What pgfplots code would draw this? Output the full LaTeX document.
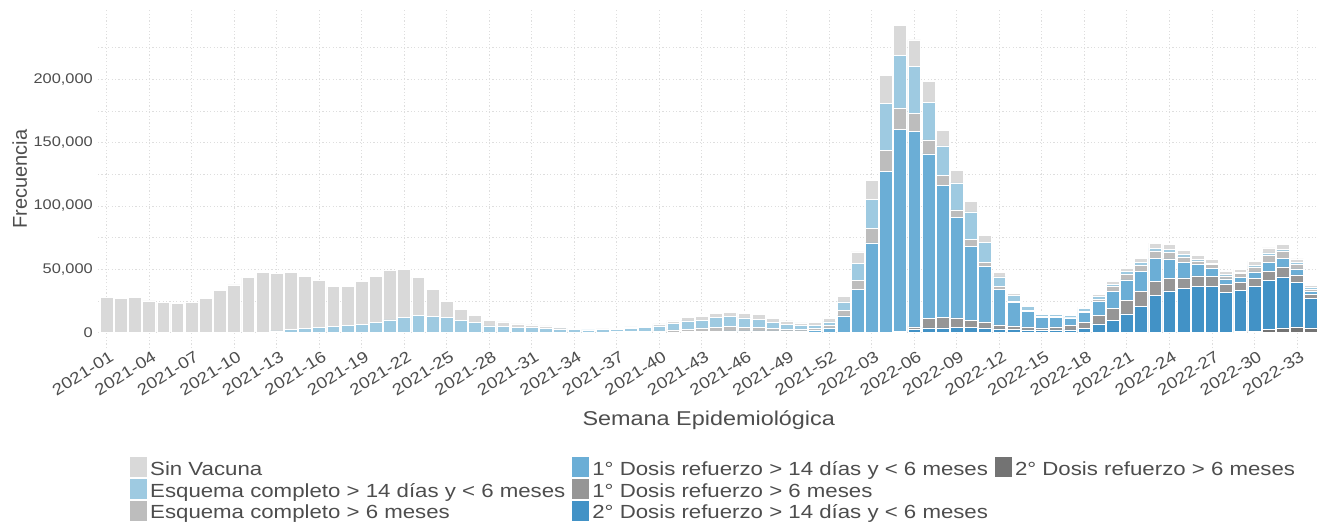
\documentclass[border=0pt]{standalone}
\usepackage{fontspec}
\setmainfont{Liberation Sans}
\newfontfamily\wide[FakeStretch=1.17]{Liberation Sans}
\usepackage{pgfplots}
\usepackage{pgfplotstable}
\pgfplotsset{compat=1.18}
\definecolor{csv}{HTML}{D9D9D9}
\definecolor{clb}{HTML}{9ECAE1}
\definecolor{cgz}{HTML}{BDBDBD}
\definecolor{cbo}{HTML}{6BAED6}
\definecolor{cgo}{HTML}{969696}
\definecolor{cdb}{HTML}{4292C6}
\definecolor{cdg}{HTML}{737373}
\definecolor{txt}{HTML}{4D4D4D}
\definecolor{gridc}{HTML}{DEDEDE}
\pgfplotstableread{
i sv lb g0 b1 g1 db dg
0 27600 0 0 0 0 0 0
1 27300 0 0 0 0 0 0
2 28100 0 0 0 0 0 0
3 25000 0 0 0 0 0 0
4 23600 0 0 0 0 0 0
5 23100 0 0 0 0 0 0
6 23900 0 0 0 0 0 0
7 27100 0 0 0 0 0 0
8 33100 0 0 0 0 0 0
9 37800 0 0 0 0 0 0
10 43050 300 0 0 0 0 0
11 46800 500 0 0 0 0 0
12 45200 1300 0 0 0 0 0
13 44900 2400 0 0 0 0 0
14 41000 3400 0 0 0 0 0
15 37100 3900 0 0 0 0 0
16 31250 5000 0 0 0 0 0
17 31000 5500 0 0 0 0 0
18 34400 6300 0 0 0 0 0
19 36300 8100 0 0 0 0 0
20 38900 10000 0 0 0 0 0
21 37850 11800 0 0 0 0 0
22 29700 13650 0 0 0 0 0
23 21050 13100 0 0 0 0 0
24 13160 11800 0 0 0 0 0
25 8950 9700 0 0 0 0 0
26 6000 7900 0 0 0 0 0
27 4450 5250 0 0 0 0 0
28 3700 4700 0 0 0 0 0
29 2730 4100 0 0 0 0 0
30 2100 3940 0 0 0 0 0
31 2100 3150 0 0 0 0 0
32 1310 2890 0 0 0 0 0
33 1050 2360 0 0 0 0 0
34 530 2100 0 0 0 0 0
35 530 2360 0 0 0 0 0
36 780 1830 800 0 0 0 0
37 1060 2610 800 0 0 0 0
38 1060 2890 1050 0 0 0 0
39 1580 3950 1300 0 0 0 0
40 2100 5000 1600 500 0 0 0
41 2600 6570 1830 800 0 0 0
42 3410 6040 2630 1050 0 0 0
43 3680 7620 3400 800 0 0 0
44 3690 7870 3430 1300 0 0 0
45 3940 7360 2900 1300 0 0 0
46 3940 6310 2640 1300 0 0 0
47 3420 4730 1850 1300 0 0 0
48 2900 3670 1330 1300 0 0 0
49 2100 3160 1060 1300 0 0 0
50 2100 2370 1830 1580 0 0 0
51 2900 2900 1700 3800 0 0 0
52 4600 6800 4200 13300 0 0 0
53 9060 13240 7250 34150 0 0 0
54 15000 22900 11600 70800 0 0 0
55 22200 36900 16700 127400 0 0 0
56 23800 41300 17300 159400 0 800 0
57 21000 36900 14400 154300 2000 2600 0
58 16700 29400 11000 130100 7200 3800 0
59 12100 23200 7900 104320 8280 3800 0
60 9700 21200 6100 79340 7260 4300 0
61 8400 21800 5200 58500 6000 3900 0
62 5800 15600 3500 43700 4700 3700 0
63 3200 7850 1950 28260 3140 2900 0
64 2100 4360 1160 18390 2750 2500 0
65 1300 3100 850 12050 2400 2100 0
66 1050 1320 670 8520 1980 1700 0
67 1050 1320 670 7600 2500 2100 0
68 1050 1300 400 6200 3400 2100 0
69 1300 1900 900 7960 4640 3500 0
70 1580 2100 1720 10750 6970 6830 0
71 2250 2100 3410 13540 9580 9720 0
72 2800 2100 4400 15900 10900 14800 0
73 3050 2100 4850 16050 11400 21000 0
74 4000 2200 5700 18100 11540 29160 0
75 3800 2100 5400 15640 9560 33000 0
76 3450 1800 4200 12400 8100 35200 0
77 3150 1310 3140 8700 8100 36800 0
78 3160 790 3410 6180 7860 36400 0
79 2100 1100 2470 4230 6700 31500 0
80 2650 1050 2900 4100 6000 32700 800
81 3200 1300 4000 5440 6310 34850 1400
82 3950 1850 6000 6750 7450 38500 2500
83 3900 1400 5770 6930 7800 40420 3680
84 2800 1300 3680 4820 5800 35200 4600
85 1950 1050 1700 2230 3670 23000 3800
}\data
\pgfplotsset{barleg/.style={legend image code/.code={\fill[##1,draw=none] (0bp,-7bp) rectangle (17bp,13bp);}}}
\begin{document}
\begin{tikzpicture}
\useasboundingbox (0,0) rectangle (1318bp,523bp);
\begin{axis}[
  at={(98bp,175bp)}, anchor=south west,
  width=1221.5bp, height=338bp, scale only axis,
  xmin=-0.6, xmax=85.6, ymin=-12130, ymax=254730,
  ybar stacked, bar width=0.9,
  axis line style={draw=none},
  major tick length=0pt, minor tick length=0pt,
  xtick={0,3,...,84},
  xticklabels={2021-01,2021-04,2021-07,2021-10,2021-13,2021-16,2021-19,2021-22,2021-25,2021-28,2021-31,2021-34,2021-37,2021-40,2021-43,2021-46,2021-49,2021-52,2022-03,2022-06,2022-09,2022-12,2022-15,2022-18,2022-21,2022-24,2022-27,2022-30,2022-33},
  ytick={0,50000,100000,150000,200000},
  minor ytick={25000,75000,125000,175000,225000},
  scaled y ticks=false,
  y tick label style={/pgf/number format/fixed, /pgf/number format/1000 sep={,}, /pgf/number format/assume math mode=true},
  yticklabel style={font=\wide\fontsize{14bp}{16bp}\selectfont, text=txt, inner sep=0pt, xshift=-5bp},
  xticklabel style={font=\wide\fontsize{16bp}{19bp}\selectfont, text=txt, rotate=32, anchor=north east, inner sep=0pt, xshift=1bp, yshift=-3bp},
  xmajorgrids, ymajorgrids, yminorgrids,
  major grid style={gridc, line width=0.7bp, dash pattern=on 1.2bp off 2.2bp},
  minor grid style={gridc, line width=0.7bp, dash pattern=on 1.2bp off 2.2bp},
  xlabel={Semana Epidemiológica},
  ylabel={Frecuencia},
  xlabel style={font=\wide\fontsize{20bp}{24bp}\selectfont, text=txt, at={(axis description cs:0.5,-0.215)}, anchor=center},
  ylabel style={font=\fontsize{20bp}{24bp}\selectfont, text=txt, at={(axis description cs:-0.064,0.5)}, anchor=center},
  legend columns=3,
  legend cell align=left,
  legend style={at={(axis description cs:0.0262,-0.322)}, anchor=north west, draw=none, fill=none, inner sep=0pt,
    font=\wide\fontsize{19bp}{22bp}\selectfont, text=txt,
    nodes={inner xsep=3bp, inner ysep=0pt, text height=15bp, text depth=4.5bp},
    row sep=-1bp,
    /tikz/every even column/.append style={column sep=4bp}},
]
\addplot[forget plot, fill=cdg, draw=white, line width=0.5bp] table[x=i,y=dg]{\data};
\addplot[forget plot, fill=cdb, draw=white, line width=0.5bp] table[x=i,y=db]{\data};
\addplot[forget plot, fill=cgo, draw=white, line width=0.5bp] table[x=i,y=g1]{\data};
\addplot[forget plot, fill=cbo, draw=white, line width=0.5bp] table[x=i,y=b1]{\data};
\addplot[forget plot, fill=cgz, draw=white, line width=0.5bp] table[x=i,y=g0]{\data};
\addplot[forget plot, fill=clb, draw=white, line width=0.5bp] table[x=i,y=lb]{\data};
\addplot[forget plot, fill=csv, draw=white, line width=0.5bp] table[x=i,y=sv]{\data};
\addlegendimage{barleg, fill=csv}\addlegendentry{Sin Vacuna}
\addlegendimage{barleg, fill=cbo}\addlegendentry{1° Dosis refuerzo > 14 días y < 6 meses}
\addlegendimage{barleg, fill=cdg}\addlegendentry{2° Dosis refuerzo > 6 meses}
\addlegendimage{barleg, fill=clb}\addlegendentry{Esquema completo > 14 días y < 6 meses}
\addlegendimage{barleg, fill=cgo}\addlegendentry{1° Dosis refuerzo > 6 meses}
\addlegendimage{empty legend}\addlegendentry{}
\addlegendimage{barleg, fill=cgz}\addlegendentry{Esquema completo > 6 meses}
\addlegendimage{barleg, fill=cdb}\addlegendentry{2° Dosis refuerzo > 14 días y < 6 meses}
\end{axis}
\end{tikzpicture}
\end{document}
